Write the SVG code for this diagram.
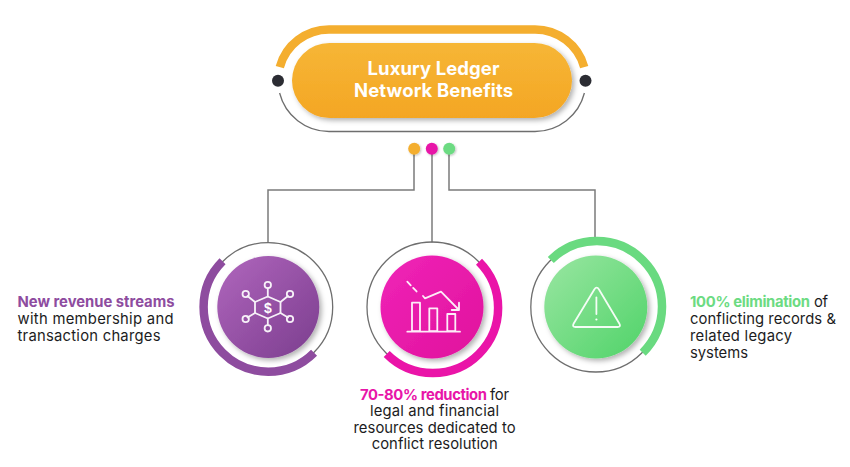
<svg xmlns="http://www.w3.org/2000/svg" width="850" height="467" viewBox="0 0 850 467">
<style>
.t{font-family:"Inter","Liberation Sans",sans-serif;font-size:14.800px;fill:#1c1c22;font-weight:400}
.b{font-weight:700}
.title{font-family:"Inter","Liberation Sans",sans-serif;font-size:18.500px;fill:#fff;font-weight:700;text-anchor:middle}
.gray{fill:none;stroke:#6e6e6e;stroke-width:1.300}
.conn{fill:none;stroke:#7b7b7b;stroke-width:1.500}
.ring{fill:none;stroke-width:8.500}
.ico{fill:none;stroke:#fff;stroke-width:1.800;stroke-linejoin:round;stroke-linecap:round;opacity:.92}
</style>
<defs>
<linearGradient id="gO" x1="0" y1="0" x2="0" y2="1"><stop offset="0" stop-color="#F6B636"/><stop offset="1" stop-color="#F4A624"/></linearGradient>
<linearGradient id="gP" x1="0" y1="0" x2="1" y2="1"><stop offset="0" stop-color="#B066BD"/><stop offset="1" stop-color="#7B3D8E"/></linearGradient>
<linearGradient id="gM" x1="0" y1="0" x2="1" y2="1"><stop offset="0" stop-color="#F024B8"/><stop offset="1" stop-color="#E0129C"/></linearGradient>
<linearGradient id="gG" x1="0" y1="0" x2="1" y2="1"><stop offset="0" stop-color="#9AE6A2"/><stop offset="1" stop-color="#4FD368"/></linearGradient>
<filter id="sh" x="-20%" y="-20%" width="150%" height="150%"><feDropShadow dx="2.500" dy="2.500" stdDeviation="2.500" flood-color="#000" flood-opacity=".3"/></filter>
<filter id="sd" x="-50%" y="-50%" width="200%" height="200%"><feDropShadow dx="1" dy="1" stdDeviation="1" flood-color="#000" flood-opacity=".25"/></filter>
</defs>
<rect width="850" height="467" fill="#fff"/>
<g id="connectors">
<path class="conn" d="M414 149V190H268V242"/>
<path class="conn" d="M432 149V242.500"/>
<path class="conn" d="M449 149V190H595V239"/>
</g>
<g id="title-node">
<path d="M279.800 67A51 51 0 0 1 329 29.500H535A51 51 0 0 1 584.200 67" fill="none" stroke="#F4AE2F" stroke-width="8.500"/>
<path class="gray" d="M279.600 93A51 51 0 0 0 329 131.500H535A51 51 0 0 0 584.400 93"/>
<circle cx="278" cy="80.700" r="6" fill="#2B2C33"/>
<circle cx="585.500" cy="80.700" r="6" fill="#2B2C33"/>
<rect x="292" y="43" width="280" height="75" rx="37.500" fill="url(#gO)" filter="url(#sh)"/>
<text class="title" x="433.500" y="75" textLength="132">Luxury Ledger</text>
<text class="title" x="433.500" y="97" textLength="159">Network Benefits</text>
</g>
<g id="dot-orange"><circle cx="414.200" cy="148.700" r="6" fill="#F4AE2F" filter="url(#sd)"/></g>
<g id="dot-magenta"><circle cx="431.800" cy="148.700" r="6" fill="#E815A8" filter="url(#sd)"/></g>
<g id="dot-green"><circle cx="449.200" cy="148.700" r="6" fill="#6CDB82" filter="url(#sd)"/></g>
<g id="node-revenue">
<circle class="gray" cx="268.300" cy="307" r="64.400"/>
<path class="ring" stroke="#8E4C9F" d="M222.550 261.250A64.700 64.700 0 0 0 314.050 352.750"/>
<circle cx="268.300" cy="307" r="51" fill="url(#gP)" filter="url(#sh)"/>
<g class="ico">
<path d="M267.800 296.500L280.500 302V313L267.800 318.500L255 313V302Z"/>
<path d="M267.800 296.500V288.500M267.800 318.500V325M280.500 302L288 296M255 302L247.500 296M280.500 313L288 317.500M255 313L247.500 317.500"/>
<circle cx="267.800" cy="285" r="3.200"/><circle cx="267.800" cy="328.300" r="3.200"/>
<circle cx="245.700" cy="294" r="3.200"/><circle cx="290" cy="294" r="3.200"/>
<circle cx="245.700" cy="319" r="3.200"/><circle cx="290" cy="319" r="3.200"/>
</g>
<text x="267.800" y="312.500" text-anchor="middle" style="font-family:'Liberation Sans',sans-serif;font-size:14px;font-weight:700;fill:#fff">$</text>
</g>
<g id="node-reduction">
<circle class="gray" cx="432" cy="307" r="65"/>
<path class="ring" stroke="#EA14A8" d="M479 261.700A65 65 0 0 1 386.700 354"/>
<circle cx="432" cy="307" r="51.500" fill="url(#gM)" filter="url(#sh)"/>
<g class="ico">
<rect x="412" y="302.700" width="8" height="28.500"/>
<rect x="429.300" y="308.300" width="8" height="22.900"/>
<rect x="447.300" y="314" width="8" height="17.200"/>
<path d="M407.300 331.700H460"/>
<path d="M407.300 281.700L418.500 293.500" stroke-dasharray="5 3.500"/>
<path d="M423 296L425 298.300L441 291.700L458.500 309.500M459 302.700V310H451.700"/>
</g>
</g>
<g id="node-elimination">
<circle class="gray" cx="595.800" cy="307" r="65"/>
<path class="ring" stroke="#69DA80" d="M550.800 260A65 65 0 1 1 642.700 352.700"/>
<circle cx="595.800" cy="307" r="51.500" fill="url(#gG)" filter="url(#sh)"/>
<path class="ico" d="M594.300 289.500Q596.700 285.800 599 289.500L619.300 323.500Q621.300 327 617.500 327H575.500Q571.800 327 573.700 323.500Z"/>
<path class="ico" d="M596.400 297.500V314"/>
<circle cx="596.400" cy="319.500" r="1.100" fill="#fff"/>
</g>
<g id="label-revenue">
<text class="t b" x="17.500" y="307" style="fill:#8E4C9F" textLength="157">New revenue streams</text>
<text class="t" x="17.500" y="324" textLength="156">with membership and</text>
<text class="t" x="17.500" y="341" textLength="143">transaction charges</text>
</g>
<g id="label-reduction">
<text class="t b" x="360" y="399.500" style="fill:#E815A8" textLength="127">70-80% reduction</text>
<text class="t" x="490" y="399.500" textLength="19">for</text>
<text class="t" x="370" y="416" textLength="129">legal and financial</text>
<text class="t" x="353.500" y="432.700" textLength="162">resources dedicated to</text>
<text class="t" x="371.700" y="449.300" textLength="126">conflict resolution</text>
</g>
<g id="label-elimination">
<text class="t b" x="690" y="306.700" style="fill:#6CDB82" textLength="120">100% elimination</text>
<text class="t" x="814" y="306.700" textLength="14">of</text>
<text class="t" x="690" y="324" textLength="146">conflicting records &amp;</text>
<text class="t" x="690" y="341" textLength="102">related legacy</text>
<text class="t" x="690" y="357.700" textLength="58">systems</text>
</g>
</svg>
